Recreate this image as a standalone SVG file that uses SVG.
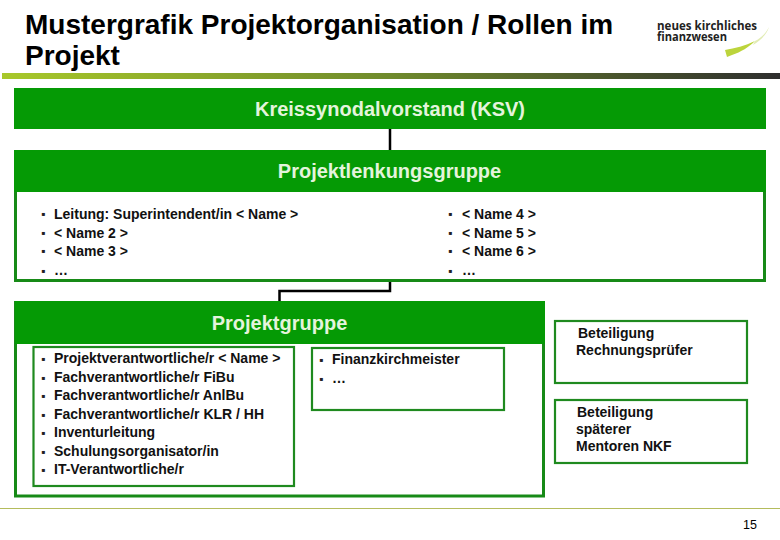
<svg xmlns="http://www.w3.org/2000/svg" width="780" height="540" viewBox="0 0 780 540">
<style>
text{font-family:"Liberation Sans",Arial,sans-serif;fill:#000}
.title{font-size:28px;font-weight:bold}
.head{font-size:20px;fill:#e4f4dc;font-weight:bold;text-anchor:middle}
.item{font-size:14px;font-weight:bold;fill:#111}
.dot{font-size:12px;font-weight:bold;fill:#222}
.frame{fill:#fff;stroke:#178a17;stroke-width:3}
.box{fill:#fff;stroke:#1f8a1f;stroke-width:2.200}
.bar{fill:#059a05}
.conn{fill:none;stroke:#000;stroke-width:2.500}
.logo{font-size:12.500px;font-weight:bold;fill:#222;font-family:"Open Sans","Liberation Sans",sans-serif}
</style>
<defs>
<linearGradient id="rule" x1="0" x2="1" y1="0" y2="0"><stop offset="0" stop-color="#a8c82a"/><stop offset=".5" stop-color="#6f8a2c"/><stop offset="1" stop-color="#2e2e2e"/></linearGradient>
</defs>
<rect width="780" height="540" fill="#fff"/>
<g id="header">
<text class="title" x="25" y="33.500">Mustergrafik Projektorganisation / Rollen im</text>
<text class="title" x="25" y="64.500">Projekt</text>
<rect x="2" y="73" width="778" height="6" fill="url(#rule)"/>
</g>
<g id="logo">
<text class="logo" x="657" y="30" textLength="100" lengthAdjust="spacingAndGlyphs">neues kirchliches</text>
<text class="logo" x="657" y="41" textLength="70" lengthAdjust="spacingAndGlyphs">finanzwesen</text>
<path d="M725 50C735 48 745 46 755 41C749 47 741 52 732 55L727 57Z" fill="#bcd43c"/>
<path d="M755 41C761 38 766 33 769 27C767 34 761 40 753 45Z" fill="#e2ecb4"/>
</g>
<g id="connectors">
<path class="conn" d="M390 129V150M390 281V291H279.500V301"/>
</g>
<g id="ksv">
<rect class="bar" x="14" y="88" width="752" height="41"/>
<text class="head" x="390" y="116">Kreissynodalvorstand (KSV)</text>
</g>
<g id="lenkung">
<rect class="frame" x="15.500" y="151.500" width="749" height="129"/>
<rect class="bar" x="14" y="150" width="752" height="42"/>
<text class="head" x="389.500" y="178">Projektlenkungsgruppe</text>
<text class="dot" x="41" y="218">▪</text><text class="item" x="54" y="218.500">Leitung: Superintendent/in &lt; Name &gt;</text>
<text class="dot" x="41" y="237">▪</text><text class="item" x="54" y="237.500">&lt; Name 2 &gt;</text>
<text class="dot" x="41" y="255">▪</text><text class="item" x="54" y="255.500">&lt; Name 3 &gt;</text>
<text class="dot" x="41" y="275">▪</text><text class="item" x="54" y="275">…</text>
<text class="dot" x="448" y="218">▪</text><text class="item" x="462" y="218.500">&lt; Name 4 &gt;</text>
<text class="dot" x="448" y="237">▪</text><text class="item" x="462" y="237.500">&lt; Name 5 &gt;</text>
<text class="dot" x="448" y="255">▪</text><text class="item" x="462" y="255.500">&lt; Name 6 &gt;</text>
<text class="dot" x="448" y="275">▪</text><text class="item" x="462" y="275">…</text>
</g>
<g id="projektgruppe">
<rect class="frame" x="15.500" y="302.500" width="528" height="193.500"/>
<rect class="bar" x="15" y="301" width="530" height="43"/>
<text class="head" x="279.500" y="330">Projektgruppe</text>
</g>
<g id="rollen">
<rect class="box" x="33.500" y="347" width="260.500" height="139"/>
<text class="dot" x="41" y="363">▪</text><text class="item" x="54" y="363">Projektverantwortliche/r &lt; Name &gt;</text>
<text class="dot" x="41" y="382">▪</text><text class="item" x="54" y="382">Fachverantwortliche/r FiBu</text>
<text class="dot" x="41" y="400">▪</text><text class="item" x="54" y="400">Fachverantwortliche/r AnlBu</text>
<text class="dot" x="41" y="419">▪</text><text class="item" x="54" y="419">Fachverantwortliche/r KLR / HH</text>
<text class="dot" x="41" y="437">▪</text><text class="item" x="54" y="437">Inventurleitung</text>
<text class="dot" x="41" y="456">▪</text><text class="item" x="54" y="456">Schulungsorganisator/in</text>
<text class="dot" x="41" y="474">▪</text><text class="item" x="54" y="474">IT-Verantwortliche/r</text>
</g>
<g id="finanz">
<rect class="box" x="312" y="348" width="192" height="62"/>
<text class="dot" x="319" y="364">▪</text><text class="item" x="332" y="364">Finanzkirchmeister</text>
<text class="dot" x="319" y="383">▪</text><text class="item" x="332" y="383">…</text>
</g>
<g id="rechnungspruefer">
<rect class="box" x="555" y="321" width="192" height="62"/>
<text class="item" x="578" y="338">Beteiligung</text>
<text class="item" x="576" y="355">Rechnungsprüfer</text>
</g>
<g id="mentoren">
<rect class="box" x="555" y="400" width="192" height="63"/>
<text class="item" x="577" y="417">Beteiligung</text>
<text class="item" x="576" y="434">späterer</text>
<text class="item" x="576" y="451">Mentoren NKF</text>
</g>
<g id="footer">
<rect x="0" y="508" width="780" height="1" fill="#b4bc5c"/>
<text x="743" y="529" font-size="12.500" fill="#222">15</text>
</g>
</svg>
